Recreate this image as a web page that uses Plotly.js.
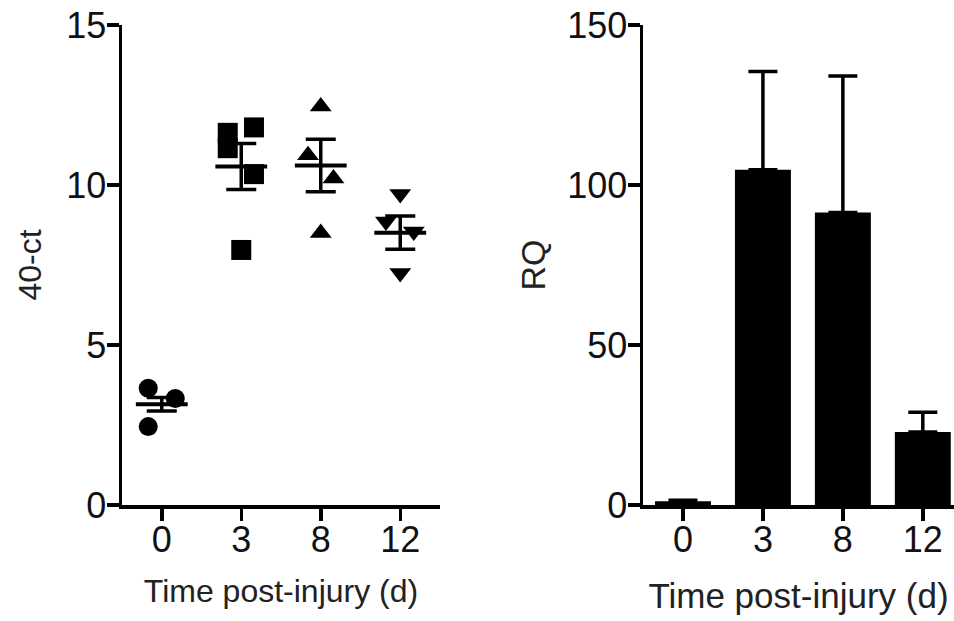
<!DOCTYPE html>
<html><head><meta charset="utf-8">
<script src="https://cdn.plot.ly/plotly-3.0.1.min.js"></script>
<style>html,body{margin:0;padding:0;background:#fff;overflow:hidden}#chart{width:954px;height:621px}</style>
</head><body><div id="chart"></div>
<script>
// ---- data ----
const days = ['0', '3', '8', '12'];
const ct_d0 = [3.65, 3.33, 2.45];
const ct_d3 = [11.63, 11.15, 11.80, 10.34, 7.97];
const ct_d8 = [12.45, 10.93, 10.20, 8.50];
const ct_d12 = [9.72, 8.86, 8.55, 7.25];
const ct_mean = [3.15, 10.58, 10.61, 8.51];
const ct_sem = [0.21, 0.72, 0.82, 0.52];
const rq_mean = [1.2, 104.8, 91.4, 22.8];
const rq_sem = [0.3, 30.7, 42.7, 6.2];

// ---- layout-only helpers (horizontal spread of the dots) ----
const jit0 = [-0.17, 0.17, -0.17];
const jit3 = [-0.17, -0.17, 0.16, 0.16, 0];
const jit8 = [0, -0.16, 0.16, 0];
const jit12 = [0, -0.18, 0.17, 0];

const FONT = 'Liberation Sans, Arial, Helvetica, sans-serif';
const groups = [
  {vals: ct_d0, jit: jit0, sym: 'circle', size: 19},
  {vals: ct_d3, jit: jit3, sym: 'square', size: 20},
  {vals: ct_d8, jit: jit8, sym: 'triangle-up', size: 19},
  {vals: ct_d12, jit: jit12, sym: 'triangle-down', size: 19}
];
const traces = groups.map((g, i) => ({
  type: 'scatter', mode: 'markers', xaxis: 'x', yaxis: 'y',
  x: g.vals.map((v, k) => i + g.jit[k]), y: g.vals,
  marker: {symbol: g.sym, size: g.size, color: '#000', line: {width: 0}},
  showlegend: false, hoverinfo: 'y'
}));
traces.push({
  type: 'scatter', mode: 'markers', xaxis: 'x', yaxis: 'y',
  x: days.map((d, i) => i), y: ct_mean,
  marker: {symbol: 'line-ew', size: 37, color: '#000', line: {width: 4, color: '#000'}},
  error_y: {type: 'data', array: ct_sem, visible: true, width: 15, thickness: 3.5, color: '#000'},
  showlegend: false
});
traces.push({
  type: 'bar', xaxis: 'x2', yaxis: 'y2',
  x: days, y: rq_mean, width: 0.7,
  marker: {color: '#000', line: {width: 0}},
  error_y: {type: 'data', array: rq_sem, arrayminus: rq_sem.map(() => 0), visible: true, width: 14.5, thickness: 3.5, color: '#000'},
  showlegend: false
});

const axBase = {
  showgrid: false, zeroline: false, showline: true, linecolor: '#000', linewidth: 3.5,
  ticks: 'outside', ticklen: 12, tickwidth: 3.5, tickcolor: '#000',
  tickfont: {family: FONT, size: 36, color: '#111'}, fixedrange: true
};
const H = 621, W = 954;
const yDom = [(H - 505) / H, (H - 25) / H];
const layout = {
  width: W, height: H, margin: {l: 0, r: 0, t: 0, b: 0},
  paper_bgcolor: '#fff', plot_bgcolor: '#fff',
  font: {family: FONT, color: '#111'},
  xaxis: Object.assign({}, axBase, {
    domain: [122 / W, 440 / W], range: [-0.5, 3.5], anchor: 'y',
    tickvals: [0, 1, 2, 3], ticktext: days, ticklabelstandoff: -12,
    title: {text: 'Time post-injury (d)', font: {family: FONT, size: 32, color: '#222'}, standoff: 22}
  }),
  yaxis: Object.assign({}, axBase, {
    domain: yDom, range: [0, 15], anchor: 'x', tickvals: [0, 5, 10, 15], ticklabelstandoff: -7,
    title: {text: '40-ct', font: {family: FONT, size: 32, color: '#222'}, standoff: 16}
  }),
  xaxis2: Object.assign({}, axBase, {
    domain: [643 / W, 1], range: [-0.5, 3.39], anchor: 'y2', type: 'category', ticklabelstandoff: -12,
    title: {text: 'Time post-injury (d)', font: {family: FONT, size: 35, color: '#222'}, standoff: 26}
  }),
  yaxis2: Object.assign({}, axBase, {
    domain: yDom, range: [0, 150], anchor: 'x2', tickvals: [0, 50, 100, 150], ticklabelstandoff: -7,
    title: {text: 'RQ', font: {family: FONT, size: 34, color: '#222'}, standoff: 12}
  })
};
Plotly.newPlot('chart', traces, layout, {displayModeBar: false, staticPlot: true});
</script></body></html>
